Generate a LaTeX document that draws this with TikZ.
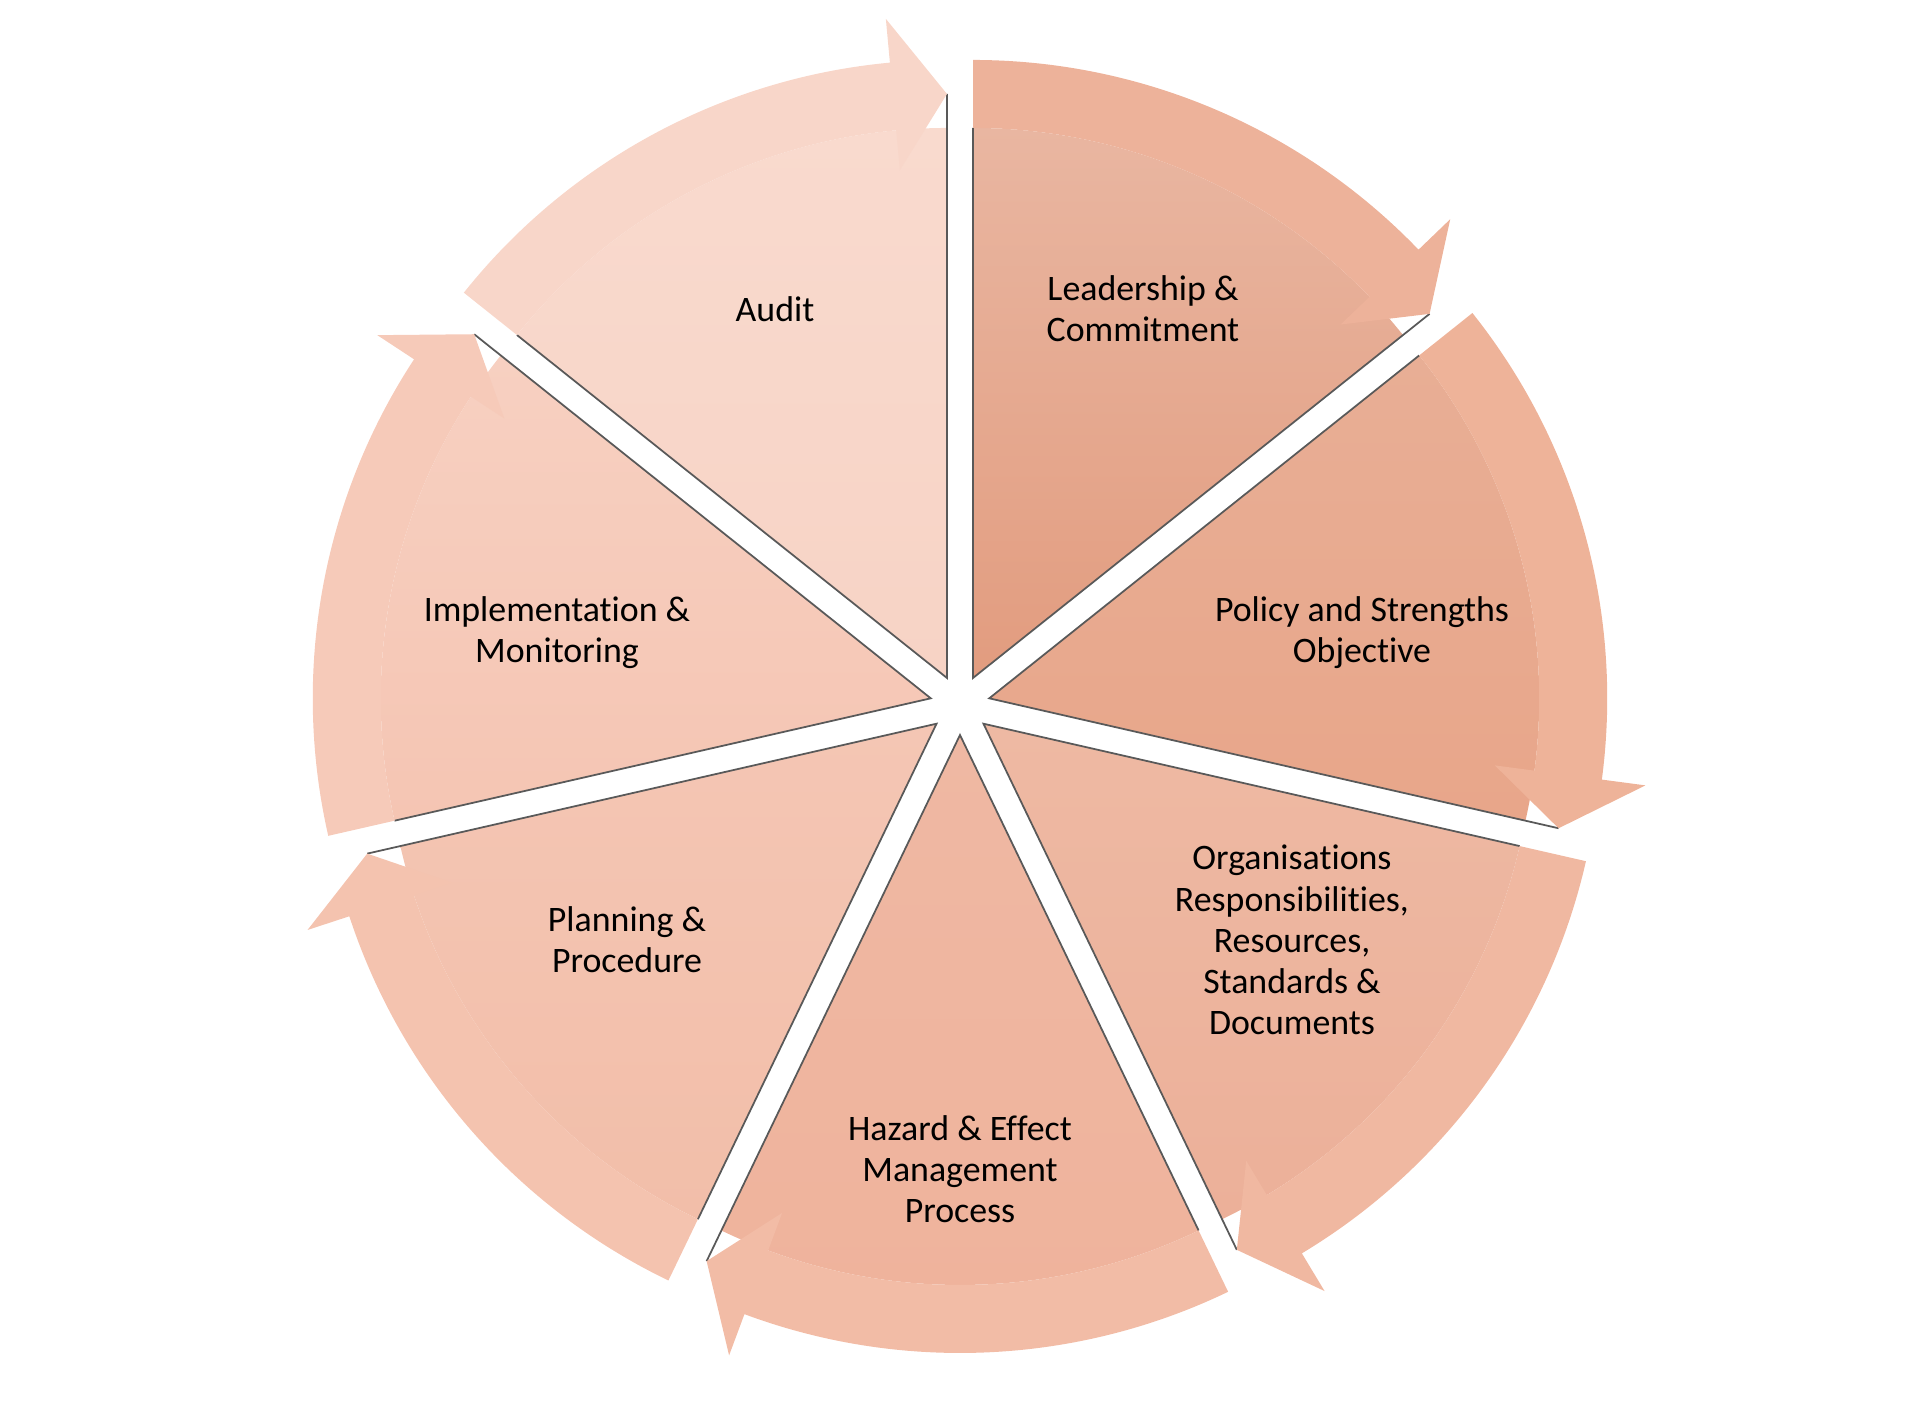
\documentclass[tikz,border=0pt]{standalone}
\usepackage{fontspec}
\setmainfont{Carlito}[Ligatures=NoCommon]

\definecolor{auditTop}{HTML}{F9DACE}
\definecolor{auditBot}{HTML}{F7D3C5}
\definecolor{auditBand}{HTML}{F8D6C9}
\definecolor{leaderTop}{HTML}{E9B6A1}
\definecolor{leaderBot}{HTML}{E29C7F}
\definecolor{leaderBand}{HTML}{EDB29A}
\definecolor{policyTop}{HTML}{E8AE95}
\definecolor{policyBot}{HTML}{E8A68A}
\definecolor{policyBand}{HTML}{EEB399}
\definecolor{organTop}{HTML}{EEB9A3}
\definecolor{organBot}{HTML}{ECB099}
\definecolor{organBand}{HTML}{F0B8A1}
\definecolor{hazardTop}{HTML}{EFB8A3}
\definecolor{hazardBot}{HTML}{EFB39C}
\definecolor{hazardBand}{HTML}{F2BCA6}
\definecolor{planTop}{HTML}{F4C6B4}
\definecolor{planBot}{HTML}{F2BEA9}
\definecolor{planBand}{HTML}{F4C3AF}
\definecolor{implTop}{HTML}{F7D0C1}
\definecolor{implBot}{HTML}{F5C5B3}
\definecolor{implBand}{HTML}{F6CAB9}

\tikzset{
  wedgeline/.style={black!65, line width=0.5pt},
  seglabel/.style={align=center, font=\fontsize{10.2}{11.7}\selectfont, text=black},
}

\begin{document}
\begin{tikzpicture}
  \useasboundingbox (-9.6,-7.07) rectangle (9.6,7.05);
  % seven wedges, each with its arrow band
  \foreach \mid/\wtop/\wbot/\band in {115.714/auditTop/auditBot/auditBand,
      64.286/leaderTop/leaderBot/leaderBand, 12.857/policyTop/policyBot/policyBand,
      -38.571/organTop/organBot/organBand, -90/hazardTop/hazardBot/hazardBand,
      -141.429/planTop/planBot/planBand, 167.143/implTop/implBot/implBand}{
    \begin{scope}[shift={(\mid:0.3)}]
      \pgfmathsetmacro\ccw{\mid+25.714}
      \pgfmathsetmacro\cw{\mid-25.714}
      \pgfmathsetmacro\back{\cw+5.3}
      \shade[top color=\wtop, bottom color=\wbot]
        (0,0) -- (\ccw:5.5) arc[start angle=\ccw, end angle=\cw, radius=5.5] -- cycle;
      \draw[wedgeline] (\ccw:5.5) -- (0,0) -- (\cw:5.84);
      \fill[\band] (\ccw:6.18) arc[start angle=\ccw, end angle=\back, radius=6.18]
        -- (\back:6.62) -- (\cw:5.84) -- (\back:5.1) -- (\back:5.5)
        arc[start angle=\back, end angle=\ccw, radius=5.5] -- cycle;
    \end{scope}
  }
  \node[seglabel] (audit) at (-1.85,3.96) {Audit};
  \node[seglabel] (leader) at (1.83,3.96) {Leadership \&\\Commitment};
  \node[seglabel] (policy) at (4.02,0.72) {Policy and Strengths\\Objective};
  \node[seglabel] (organ) at (3.32,-2.35) {Organisations\\Responsibilities,\\Resources,\\Standards \&\\Documents};
  \node[seglabel] (hazard) at (0,-4.64) {Hazard \& Effect\\Management\\Process};
  \node[seglabel] (planning) at (-3.33,-2.35) {Planning \&\\Procedure};
  \node[seglabel] (implement) at (-4.03,0.72) {Implementation \&\\Monitoring};
\end{tikzpicture}
\end{document}
